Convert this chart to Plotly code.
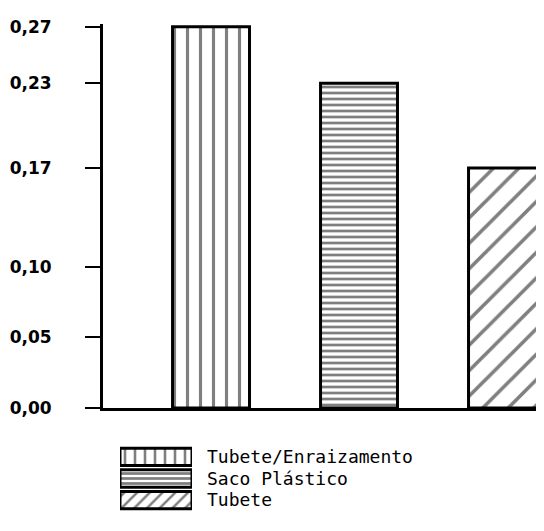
import plotly.graph_objects as go

categories = ["Tubete/Enraizamento", "Saco Plástico", "Tubete"]
values = [0.27, 0.23, 0.17]
tick_vals = [0.00, 0.05, 0.10, 0.17, 0.23, 0.27]
tick_text = ["0,00", "0,05", "0,10", "0,17", "0,23", "0,27"]

shapes_main = ["|", "-", "/"]
sizes_main = [13, 6, 18]
solid_main = [0.24, 0.45, 0.2]
sizes_leg = [10, 5, 9]
solid_leg = [0.26, 0.55, 0.28]

fig = go.Figure()
for i, (c, v) in enumerate(zip(categories, values)):
    fig.add_trace(go.Bar(
        x=[c], y=[v], width=0.52, xaxis="x", yaxis="y",
        marker=dict(color="white",
                    line=dict(color="black", width=3),
                    pattern=dict(shape=shapes_main[i], size=sizes_main[i],
                                 solidity=solid_main[i], fgcolor="black",
                                 bgcolor="white")),
        showlegend=False, hoverinfo="skip"))
    # legend swatch
    fig.add_trace(go.Bar(
        y=[c], x=[1], orientation="h", width=0.8, xaxis="x2", yaxis="y2",
        marker=dict(color="white",
                    line=dict(color="black", width=3),
                    pattern=dict(shape=shapes_main[i], size=sizes_leg[i],
                                 solidity=solid_leg[i], fgcolor="black",
                                 bgcolor="white")),
        showlegend=False, hoverinfo="skip"))

OFF = 8  # page body margin
W, H = 544 - OFF, 531 - OFF
l, r, t, b = 103 - OFF, 0, 24 - OFF, 10
pw, ph = W - l - r, H - t - b
def px(x):
    return (x - OFF - l) / pw
def py(y):
    return (H - b - (y - OFF)) / ph

fig.update_layout(
    width=W, height=H,
    margin=dict(l=l, r=r, t=t, b=b),
    paper_bgcolor="white", plot_bgcolor="white",
    barmode="overlay",
    xaxis=dict(domain=[0, 1], range=[-0.73, 2.25], showticklabels=False,
               ticks="", showgrid=False, zeroline=False,
               showline=True, linecolor="black", linewidth=3,
               anchor="y", categoryorder="array", categoryarray=categories),
    yaxis=dict(domain=[py(408), 1], range=[0, 0.272],
               tickvals=tick_vals, ticktext=tick_text,
               tickfont=dict(family="DejaVu Sans", size=17, color="black",
                             weight="bold"),
               ticks="outside", ticklen=15, tickwidth=2, tickcolor="black",
               ticklabelstandoff=30,
               showgrid=False, zeroline=False,
               showline=True, linecolor="black", linewidth=3, anchor="x"),
    xaxis2=dict(domain=[px(120), px(192)], range=[0, 1], visible=False,
                anchor="y2"),
    yaxis2=dict(domain=[py(511), py(446)], anchor="x2", side="right",
                categoryorder="array", categoryarray=categories,
                tickmode="array", tickvals=categories, ticktext=categories,
                autorange="reversed", showgrid=False, zeroline=False,
                showline=False, ticks="",
                tickfont=dict(family="DejaVu Sans Mono", size=18, color="black"),
                ticklabelstandoff=14),
)

fig.write_html("out.html")
